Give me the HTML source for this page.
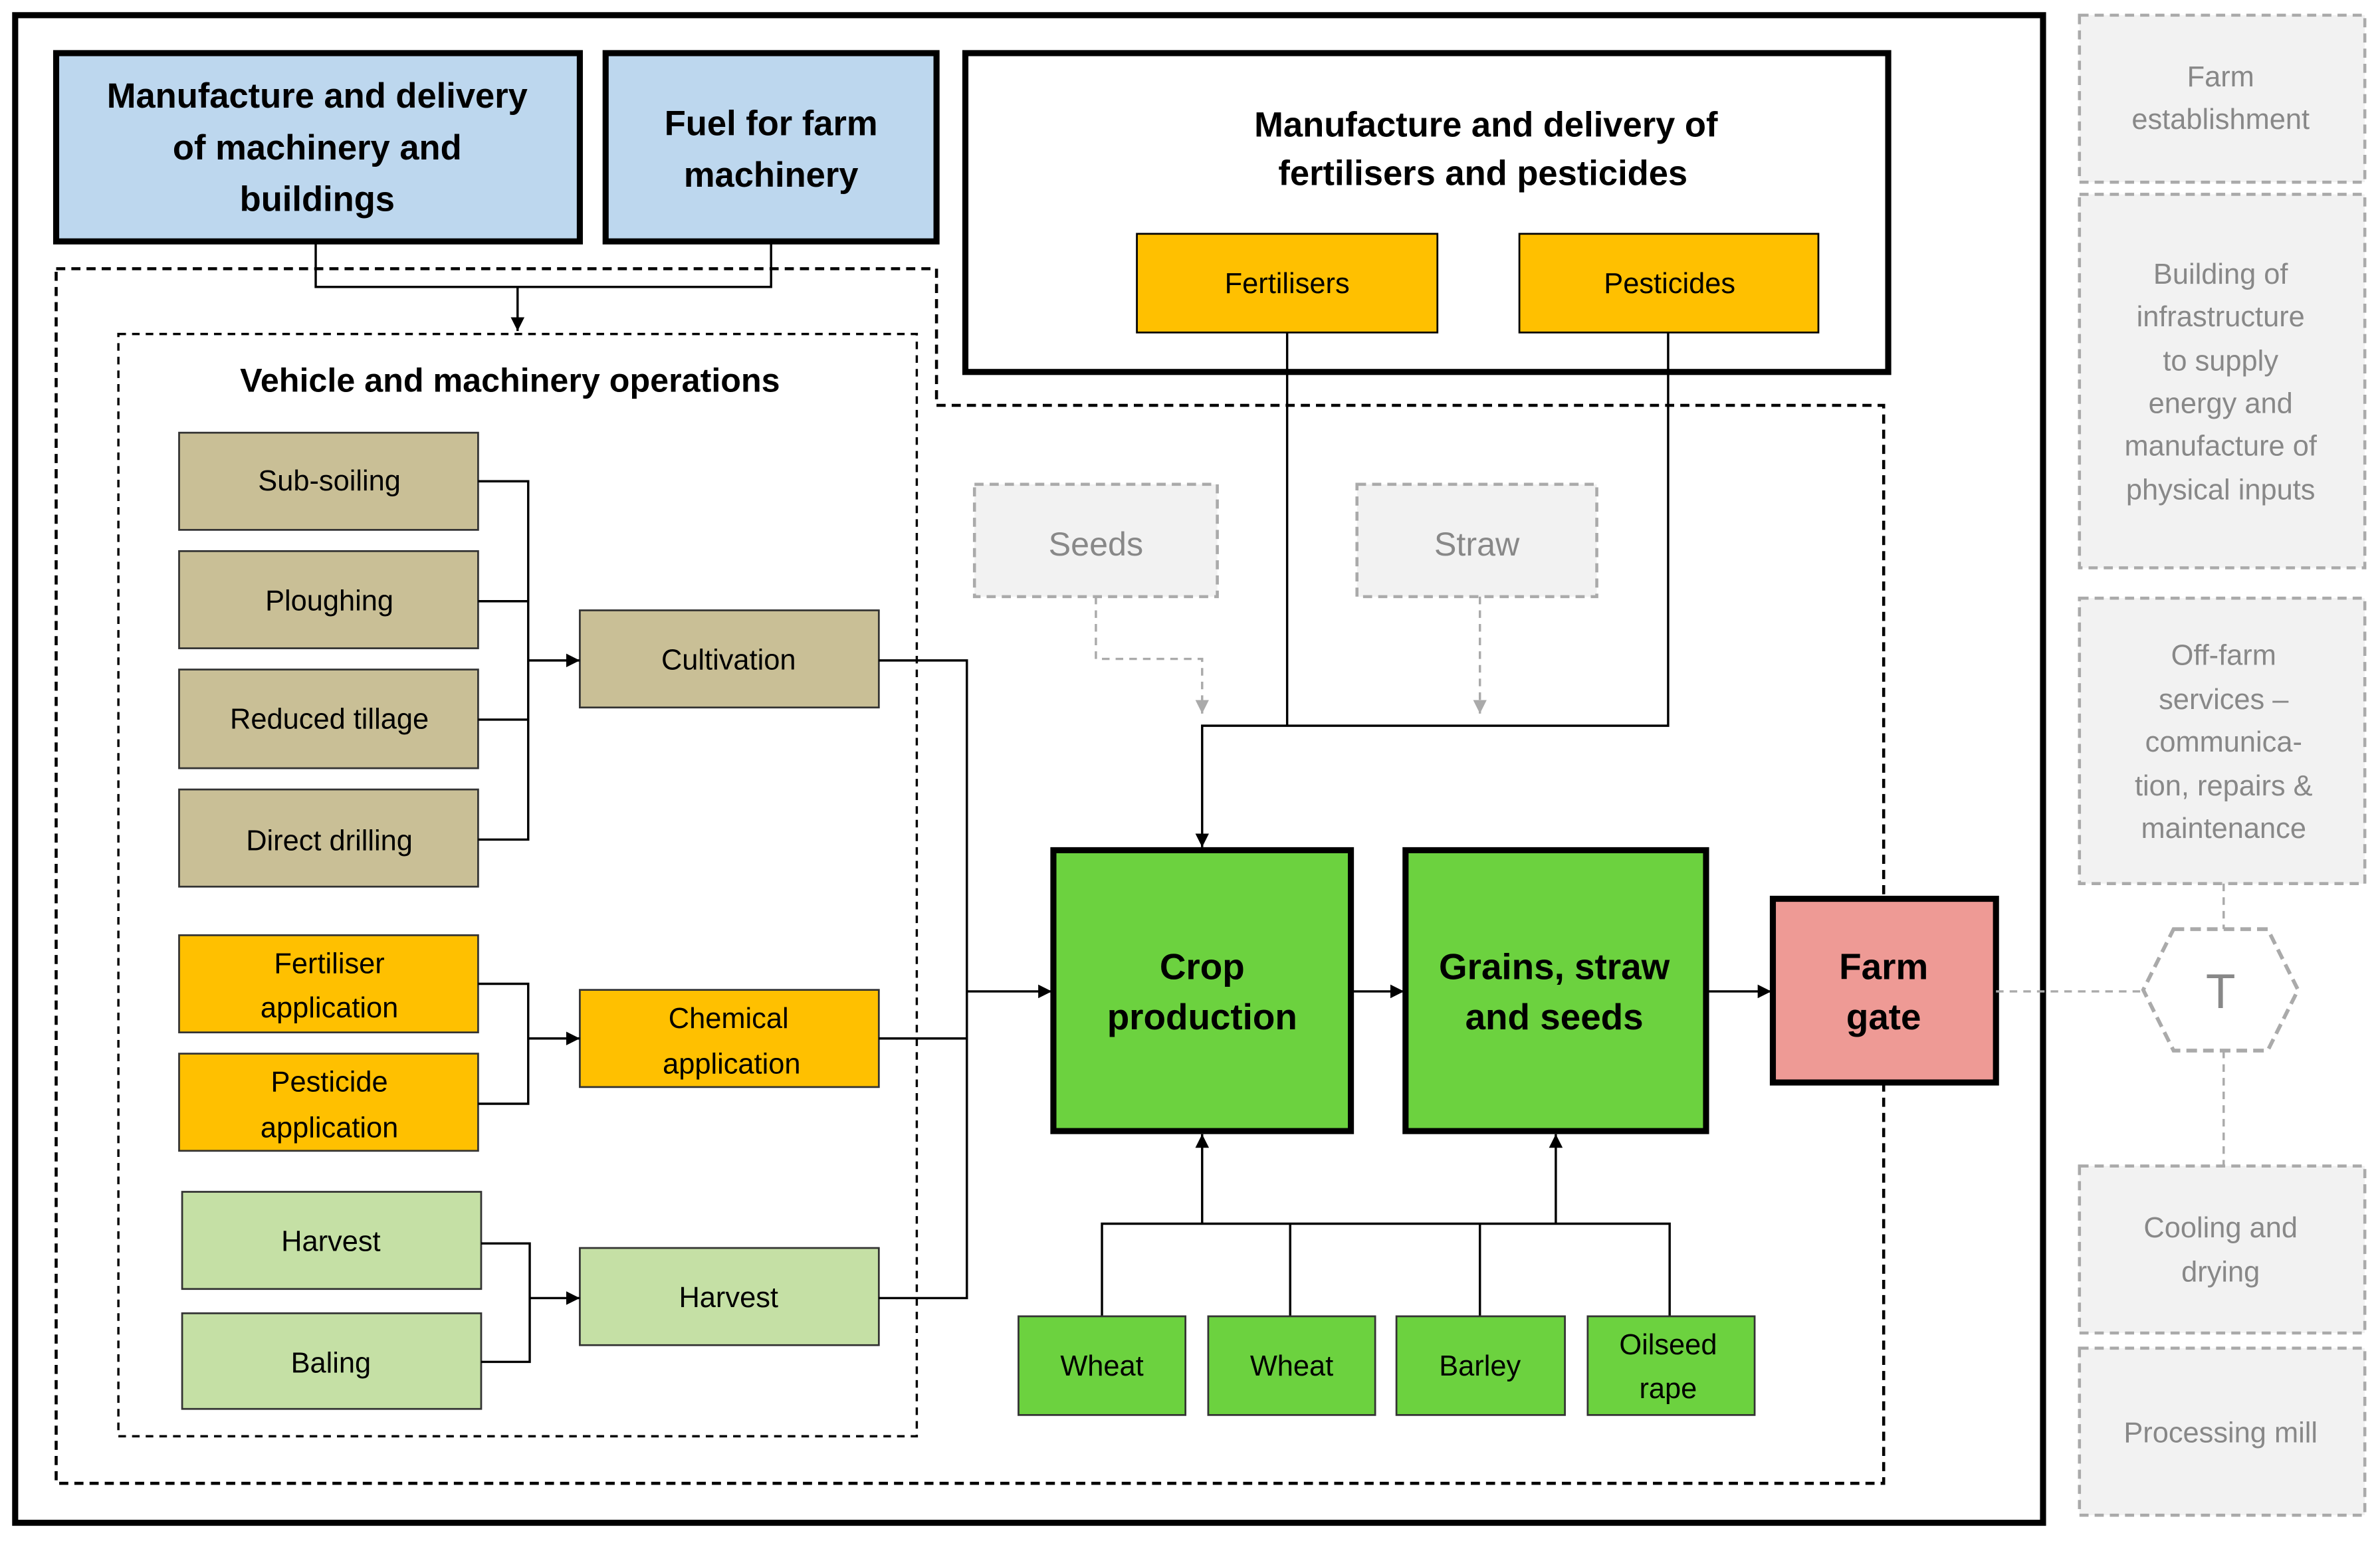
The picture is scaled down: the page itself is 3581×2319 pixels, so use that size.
<!DOCTYPE html>
<html><head><meta charset="utf-8"><style>
html,body{margin:0;padding:0;background:#fff;}
svg{display:block;}
text{font-family:"Liberation Sans",sans-serif;}
</style></head><body>
<svg width="3581" height="2319" viewBox="0 0 1568 1015" preserveAspectRatio="none" xmlns="http://www.w3.org/2000/svg">
<defs>
<marker id="a" viewBox="0 0 10 10" refX="10" refY="5" markerWidth="6" markerHeight="6" orient="auto"><path d="M0,0L10,5L0,10z" fill="#000"/></marker>
<marker id="g" viewBox="0 0 10 10" refX="10" refY="5" markerWidth="6" markerHeight="6" orient="auto"><path d="M0,0L10,5L0,10z" fill="#aaa"/></marker>
</defs>
<rect width="1568" height="1015" fill="#fff"/>
<rect x="10" y="10" width="1336" height="993" fill="none" stroke="#000" stroke-width="4"/>
<!-- dashed regions -->
<path d="M37,177H617V267H1241V977H37Z" fill="none" stroke="#000" stroke-width="2" stroke-dasharray="6,4"/>
<rect x="78" y="220" width="526" height="726" fill="none" stroke="#000" stroke-width="1.5" stroke-dasharray="5,4"/>
<!-- top boxes -->
<rect x="37" y="35" width="345" height="124" fill="#BDD7EE" stroke="#000" stroke-width="4"/>
<text font-size="23" font-weight="bold" text-anchor="middle"><tspan x="209" y="71">Manufacture and delivery</tspan><tspan x="209" y="105">of machinery and</tspan><tspan x="209" y="139">buildings</tspan></text>
<rect x="399" y="35" width="218" height="124" fill="#BDD7EE" stroke="#000" stroke-width="4"/>
<text font-size="23" font-weight="bold" text-anchor="middle"><tspan x="508" y="89">Fuel for farm</tspan><tspan x="508" y="123">machinery</tspan></text>
<rect x="636" y="35" width="608" height="210" fill="#fff" stroke="#000" stroke-width="4"/>
<text font-size="23" font-weight="bold" text-anchor="middle"><tspan x="979" y="90">Manufacture and delivery of</tspan><tspan x="977" y="122">fertilisers and pesticides</tspan></text>
<rect x="749" y="154" width="198" height="65" fill="#FFC000" stroke="#000" stroke-width="1.2"/>
<text x="848" y="193" font-size="19" text-anchor="middle">Fertilisers</text>
<rect x="1001" y="154" width="197" height="65" fill="#FFC000" stroke="#000" stroke-width="1.2"/>
<text x="1100" y="193" font-size="19" text-anchor="middle">Pesticides</text>
<path d="M208,159V189H508V159M341,189V218" fill="none" stroke="#000" stroke-width="1.5" marker-end="url(#a)"/>
<text x="336" y="258" font-size="22" font-weight="bold" text-anchor="middle">Vehicle and machinery operations</text>
<!-- tan -->
<g fill="#C9BF96" stroke="#333" stroke-width="1.2">
<rect x="118" y="285" width="197" height="64"/><rect x="118" y="363" width="197" height="64"/>
<rect x="118" y="441" width="197" height="65"/><rect x="118" y="520" width="197" height="64"/>
<rect x="382" y="402" width="197" height="64"/>
</g>
<g fill="#FFC000" stroke="#333" stroke-width="1.2">
<rect x="118" y="616" width="197" height="64"/><rect x="118" y="694" width="197" height="64"/>
<rect x="382" y="652" width="197" height="64"/>
</g>
<g fill="#C5E0A5" stroke="#333" stroke-width="1.2">
<rect x="120" y="785" width="197" height="64"/><rect x="120" y="865" width="197" height="63"/>
<rect x="382" y="822" width="197" height="64"/>
</g>
<g font-size="19" text-anchor="middle">
<text x="217" y="323">Sub-soiling</text><text x="217" y="402">Ploughing</text>
<text x="217" y="480">Reduced tillage</text><text x="217" y="560">Direct drilling</text>
<text x="480" y="441">Cultivation</text>
<text x="217" y="641">Fertiliser</text><text x="217" y="670">application</text>
<text x="217" y="719">Pesticide</text><text x="217" y="749">application</text>
<text x="480" y="677">Chemical</text><text x="482" y="707">application</text>
<text x="218" y="824">Harvest</text><text x="218" y="904">Baling</text>
<text x="480" y="861">Harvest</text>
</g>
<g fill="none" stroke="#000" stroke-width="1.5">
<path d="M315,317H348V553H315M315,396H348M315,474H348"/>
<path d="M348,435H382" marker-end="url(#a)"/>
<path d="M315,648H348V727H315"/>
<path d="M348,684H382" marker-end="url(#a)"/>
<path d="M317,819H349V897H317"/>
<path d="M349,855H382" marker-end="url(#a)"/>
<path d="M579,435H637V855H579M579,684H637"/>
<path d="M637,653H693" marker-end="url(#a)"/>
<path d="M848,219V478M1099,219V478H792V558" marker-end="url(#a)"/>
<path d="M890,653H925" marker-end="url(#a)"/>
<path d="M1124,653H1167" marker-end="url(#a)"/>
<path d="M726,867V806H1100V867M850,867V806M975,867V806"/>
<path d="M792,806V747" marker-end="url(#a)"/>
<path d="M1025,806V747" marker-end="url(#a)"/>
</g>
<!-- seeds/straw -->
<g fill="#f2f2f2" stroke="#aaa" stroke-width="2" stroke-dasharray="6,4">
<rect x="642" y="319" width="160" height="74"/><rect x="894" y="319" width="158" height="74"/>
</g>
<text x="722" y="366" font-size="22" fill="#888" text-anchor="middle">Seeds</text>
<text x="973" y="366" font-size="22" fill="#888" text-anchor="middle">Straw</text>
<path d="M722,393V434H792V470" fill="none" stroke="#aaa" stroke-width="1.5" stroke-dasharray="5,4" marker-end="url(#g)"/>
<path d="M975,393V470" fill="none" stroke="#aaa" stroke-width="1.5" stroke-dasharray="5,4" marker-end="url(#g)"/>
<!-- main green -->
<rect x="694" y="560" width="196" height="185" fill="#6CD23F" stroke="#000" stroke-width="4"/>
<text font-size="24" font-weight="bold" text-anchor="middle"><tspan x="792" y="645">Crop</tspan><tspan x="792" y="678">production</tspan></text>
<rect x="926" y="560" width="198" height="185" fill="#6CD23F" stroke="#000" stroke-width="4"/>
<text font-size="24" font-weight="bold" text-anchor="middle"><tspan x="1024" y="645">Grains, straw</tspan><tspan x="1024" y="678">and seeds</tspan></text>
<rect x="1168" y="592" width="147" height="121" fill="#EE9A95" stroke="#000" stroke-width="4"/>
<text font-size="24" font-weight="bold" text-anchor="middle"><tspan x="1241" y="645">Farm</tspan><tspan x="1241" y="678">gate</tspan></text>
<g fill="#6CD23F" stroke="#333" stroke-width="1.2">
<rect x="671" y="867" width="110" height="65"/><rect x="796" y="867" width="110" height="65"/>
<rect x="920" y="867" width="111" height="65"/><rect x="1046" y="867" width="110" height="65"/>
</g>
<g font-size="19" text-anchor="middle">
<text x="726" y="906">Wheat</text><text x="851" y="906">Wheat</text><text x="975" y="906">Barley</text>
<text x="1099" y="892">Oilseed</text><text x="1099" y="921">rape</text>
</g>
<!-- right gray -->
<g fill="#f2f2f2" stroke="#aaa" stroke-width="2" stroke-dasharray="6,4">
<rect x="1370" y="10" width="188" height="110"/><rect x="1370" y="128" width="188" height="246"/>
<rect x="1370" y="394" width="188" height="188"/><rect x="1370" y="768" width="188" height="110"/>
<rect x="1370" y="888" width="188" height="110"/>
</g>
<g font-size="19" fill="#888" text-anchor="middle">
<text x="1463" y="57">Farm</text><text x="1463" y="85">establishment</text>
<text x="1463" y="187">Building of</text><text x="1463" y="215">infrastructure</text><text x="1463" y="244">to supply</text><text x="1463" y="272">energy and</text><text x="1463" y="300">manufacture of</text><text x="1463" y="329">physical inputs</text>
<text x="1465" y="438">Off-farm</text><text x="1465" y="467">services –</text><text x="1465" y="495">communica-</text><text x="1465" y="524">tion, repairs &amp;</text><text x="1465" y="552">maintenance</text>
<text x="1463" y="815">Cooling and</text><text x="1463" y="844">drying</text>
<text x="1463" y="950">Processing mill</text>
</g>
<path d="M1315,653H1412M1465,582V612M1465,692V768" fill="none" stroke="#aaa" stroke-width="1.5" stroke-dasharray="5,4"/>
<polygon points="1432,612 1494,612 1514,652 1494,692 1432,692 1412,652" fill="#fff" stroke="#aaa" stroke-width="2.5" stroke-dasharray="7,4"/>
<text x="1463" y="664" font-size="32" fill="#888" text-anchor="middle">T</text>
</svg>
</body></html>
